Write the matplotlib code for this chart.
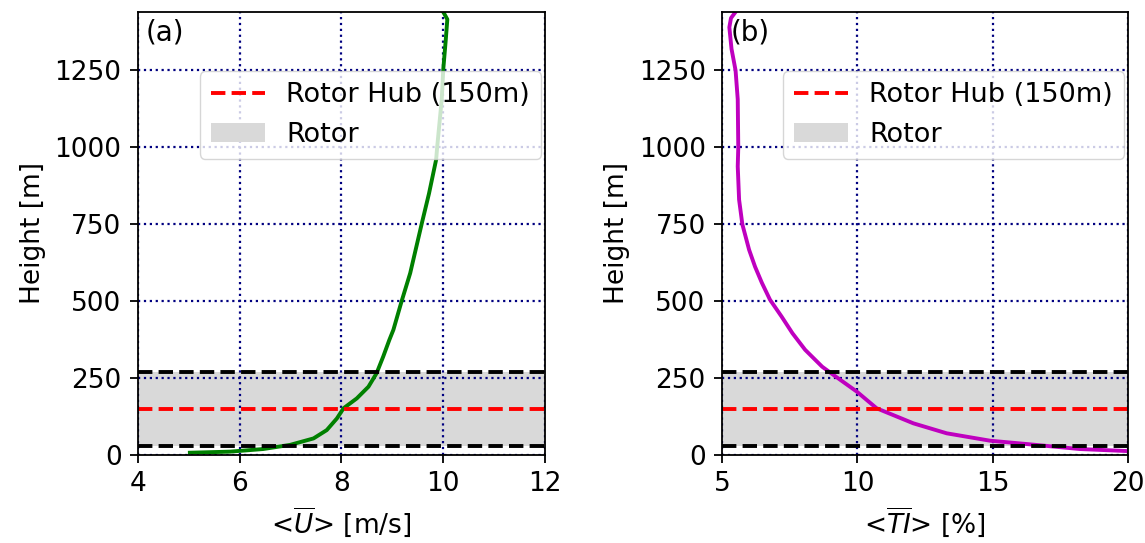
import matplotlib
matplotlib.use("Agg")
import matplotlib.pyplot as plt

# mean wind speed profile (height [m], <U> [m/s])
h_u = [7.5, 11, 19.5, 33, 54, 81, 119, 152, 184, 222, 266, 320, 374, 407, 499,
       591, 754, 850, 960, 1000, 1156, 1253, 1351, 1416, 1440]
u_mean = [5.02, 5.81, 6.46, 6.99, 7.45, 7.71, 7.91, 8.04, 8.30, 8.53, 8.69, 8.82,
          8.94, 9.02, 9.18, 9.35, 9.58, 9.72, 9.86, 9.88, 9.97, 10.0, 10.05, 10.08,
          10.0]

# turbulence intensity profile (height [m], <TI> [%])
h_ti = [9, 13, 19.5, 34.7, 46.6, 70.6, 103, 152, 206, 255, 271, 287, 342, 396,
        450, 505, 560, 612, 667, 750, 830, 938, 1000, 1156, 1250, 1320, 1390, 1420,
        1440]
ti_mean = [20.9, 19.95, 18.22, 16.38, 14.9, 13.3, 12.07, 10.71, 9.98, 9.2, 8.95,
           8.7, 8.07, 7.6, 7.2, 6.77, 6.47, 6.22, 6.0, 5.75, 5.63, 5.58, 5.60, 5.58,
           5.5, 5.35, 5.27, 5.33, 5.5]

hub_height = 150
rotor_bottom = 30
rotor_top = 270
y_max = 1440

plt.rcParams["font.size"] = 19
plt.rcParams["axes.linewidth"] = 1.3

fig = plt.figure(figsize=(11.45, 5.43), dpi=100)
ax1 = fig.add_axes([0.1205, 0.162, 0.3555, 0.816])
ax2 = fig.add_axes([0.6306, 0.162, 0.3546, 0.816])

panels = [
    (ax1, u_mean, h_u, "g", (4, 12), [4, 6, 8, 10, 12], r"<$\overline{U}$> [m/s]", "(a)"),
    (ax2, ti_mean, h_ti, "m", (5, 20), [5, 10, 15, 20], r"<$\overline{TI}$> [%]", "(b)"),
]

for ax, x, h, col, xlim, xticks, xlabel, tag in panels:
    ax.plot(x, h, color=col, lw=2.8)
    rotor = ax.axhspan(rotor_bottom, rotor_top, color="#d9d9d9", lw=0, label="Rotor")
    hub, = ax.plot(xlim, [hub_height, hub_height], color="red", ls="--", lw=2.8,
                   label="Rotor Hub (150m)")
    ax.axhline(rotor_bottom, color="k", ls="--", lw=2.8)
    ax.axhline(rotor_top, color="k", ls="--", lw=2.8)
    ax.set_xlim(xlim)
    ax.set_xticks(xticks)
    ax.set_ylim(0, y_max)
    ax.set_yticks([0, 250, 500, 750, 1000, 1250])
    ax.tick_params(length=5.8, width=1.3, pad=6)
    ax.grid(color="navy", ls=":", lw=1.6)
    ax.set_xlabel(xlabel, labelpad=6)
    ax.set_ylabel("Height [m]", labelpad=6)
    ax.text(0.02, 0.985, tag, transform=ax.transAxes, va="top", ha="left", fontsize=20)
    ax.legend(handles=[hub, rotor], loc="upper right", bbox_to_anchor=(1.0, 0.875),
              borderaxespad=0.15, fontsize=19.5, handlelength=2.0)

fig.savefig("out.png", dpi=100)
